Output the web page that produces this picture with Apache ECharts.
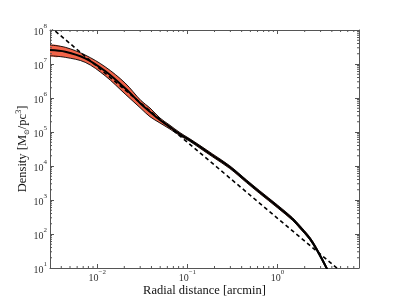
<!DOCTYPE html>
<html><head><meta charset="utf-8">
<script src="https://cdn.jsdelivr.net/npm/echarts@6/dist/echarts.min.js"></script>
<style>html,body{margin:0;padding:0;background:#fff}#c{width:399px;height:299px}</style>
</head><body><div id="c"></div>
<script>
const radius = [0.003, 0.00443, 0.00736, 0.01225, 0.0204, 0.0306, 0.0385, 0.0497, 0.0641, 0.0827, 0.1066, 0.1375, 0.191, 0.295, 0.451, 0.632, 1.0, 1.465, 1.75, 2.26, 2.70, 3.45, 3.75];
const density = [2.58e7, 2.30e7, 1.47e7, 6.2e6, 1.93e6, 6.7e5, 3.96e5, 2.25e5, 1.40e5, 8.7e4, 5.8e4, 3.7e4, 2.04e4, 9.3e3, 3.6e3, 1.72e3, 645, 276, 166, 76, 36, 10.7, 6.7];
const densityUpper = [3.62e7, 3.10e7, 1.84e7, 8.3e6, 2.76e6, 8.4e5, 5.1e5, 2.58e5, 1.58e5, 9.6e4, 6.3e4, 4.05e4, 2.24e4, 1.02e4, 3.95e3, 1.89e3, 710, 303, 183, 84, 40, 11.8, 7.4];
const densityLower = [1.75e7, 1.57e7, 1.12e7, 4.5e6, 1.31e6, 4.9e5, 2.82e5, 1.84e5, 1.22e5, 7.8e4, 5.3e4, 3.35e4, 1.85e4, 8.45e3, 3.27e3, 1.56e3, 586, 251, 151, 69, 33, 9.7, 6.1];
const powerLawR = [0.003, 0.01, 0.1, 1, 5];
const powerLawRho = [1.25e8, 8.5e6, 5.0e4, 290, 8.1];
const xRange = [0.003, 8];
const yRange = [10, 1e8];

const FONT = 'Liberation Serif';
const AX = '#555';
const SMOOTH = 0.35;

function powLabel(v) {
  const l = Math.log10(v), e = Math.round(l);
  if (Math.abs(l - e) > 1e-6) return '';
  return '{b|10}{s|' + (e < 0 ? '\u2212' + (-e) : e) + '}';
}
const labelRich = {
  b: {fontFamily: FONT, fontSize: 10, color: '#333', lineHeight: 14, verticalAlign: 'bottom'},
  s: {fontFamily: FONT, fontSize: 7, color: '#333', lineHeight: 14, verticalAlign: 'top'}
};
function axisCommon(extra) {
  return Object.assign({
    type: 'log', logBase: 10,
    axisLine: {show: true, lineStyle: {color: AX, width: 1}},
    axisTick: {show: true, inside: true, length: 4, lineStyle: {color: AX}},
    splitLine: {show: false},
    minorTick: {show: false},
    axisLabel: {show: false}
  }, extra);
}

const chart = echarts.init(document.getElementById('c'));
chart.setOption({
  animation: false,
  backgroundColor: '#fff',
  grid: {left: 50, right: 40, top: 30, bottom: 31, containLabel: false, outerBoundsMode: 'none'},
  xAxis: [
    axisCommon({min: xRange[0], max: xRange[1], position: 'bottom',
      axisLabel: {show: true, formatter: powLabel, rich: labelRich, margin: 1, showMinLabel: false, showMaxLabel: false},
      name: 'Radial distance [arcmin]', nameLocation: 'middle', nameGap: 16, nameMoveOverlap: false,
      nameTextStyle: {fontFamily: FONT, fontSize: 12.5, color: '#111'}}),
    axisCommon({min: xRange[0], max: xRange[1], position: 'top'})
  ],
  yAxis: [
    axisCommon({min: yRange[0], max: yRange[1], position: 'left', splitNumber: 8,
      axisLabel: {show: true, formatter: powLabel, rich: labelRich, margin: 3},
      name: 'Density [{m|M}{o|\u2299}/pc{t|3}]', nameLocation: 'middle', nameGap: 19, nameMoveOverlap: false,
      nameTextStyle: {fontFamily: FONT, fontSize: 12.5, color: '#111',
        rich: {
          m: {fontFamily: FONT, fontSize: 12.5, color: '#111', lineHeight: 16, verticalAlign: 'middle'},
          o: {fontFamily: 'DejaVu Sans', fontSize: 7, color: '#111', lineHeight: 16, verticalAlign: 'bottom'},
          t: {fontFamily: FONT, fontSize: 8, color: '#111', lineHeight: 16, verticalAlign: 'top'}
        }}}),
    axisCommon({min: yRange[0], max: yRange[1], position: 'right', splitNumber: 8})
  ],
  series: [
    {
      type: 'custom', coordinateSystem: 'cartesian2d', clip: true, z: 2,
      data: [[0.01, 1000]],
      renderItem: function (params, api) {
        const up = radius.map((r, i) => api.coord([r, densityUpper[i]]));
        const lo = radius.map((r, i) => api.coord([r, densityLower[i]]));
        const poly = up.concat(lo.slice().reverse());
        return {type: 'group', children: [
          {type: 'polygon', shape: {points: poly, smooth: SMOOTH}, style: {fill: '#f26449', stroke: null}},
          {type: 'polyline', shape: {points: up, smooth: SMOOTH}, style: {fill: null, stroke: '#000', lineWidth: 0.9}},
          {type: 'polyline', shape: {points: lo, smooth: SMOOTH}, style: {fill: null, stroke: '#000', lineWidth: 0.9}}
        ]};
      }
    },
    {
      type: 'line', data: radius.map((r, i) => [r, density[i]]), showSymbol: false, z: 3,
      smooth: SMOOTH, lineStyle: {color: '#000', width: 2}, clip: true
    },
    {
      type: 'line', data: powerLawR.map((r, i) => [r, powerLawRho[i]]), showSymbol: false, z: 4,
      lineStyle: {color: '#000', width: 1.6, type: [4, 3]}, clip: true
    },
    {
      type: 'custom', coordinateSystem: 'cartesian2d', clip: false, z: 5, silent: true,
      data: [[0.01, 1000]],
      renderItem: function (params, api) {
        const ch = [];
        const st = {stroke: AX, lineWidth: 1};
        for (let k = -3; k <= 0; k++) for (let m = 2; m <= 9; m++) {
          const v = m * Math.pow(10, k);
          if (v <= xRange[0] || v >= xRange[1]) continue;
          const b = api.coord([v, yRange[0]]), t = api.coord([v, yRange[1]]);
          ch.push({type: 'line', shape: {x1: b[0], y1: b[1], x2: b[0], y2: b[1] - 2}, style: st});
          ch.push({type: 'line', shape: {x1: t[0], y1: t[1], x2: t[0], y2: t[1] + 2}, style: st});
        }
        for (let k = 1; k <= 7; k++) for (let m = 2; m <= 9; m++) {
          const v = m * Math.pow(10, k);
          if (v <= yRange[0] || v >= yRange[1]) continue;
          const l = api.coord([xRange[0], v]), r = api.coord([xRange[1], v]);
          ch.push({type: 'line', shape: {x1: l[0], y1: l[1], x2: l[0] + 2, y2: l[1]}, style: st});
          ch.push({type: 'line', shape: {x1: r[0], y1: r[1], x2: r[0] - 2, y2: r[1]}, style: st});
        }
        return {type: 'group', children: ch};
      }
    }
  ]
});
</script></body></html>
